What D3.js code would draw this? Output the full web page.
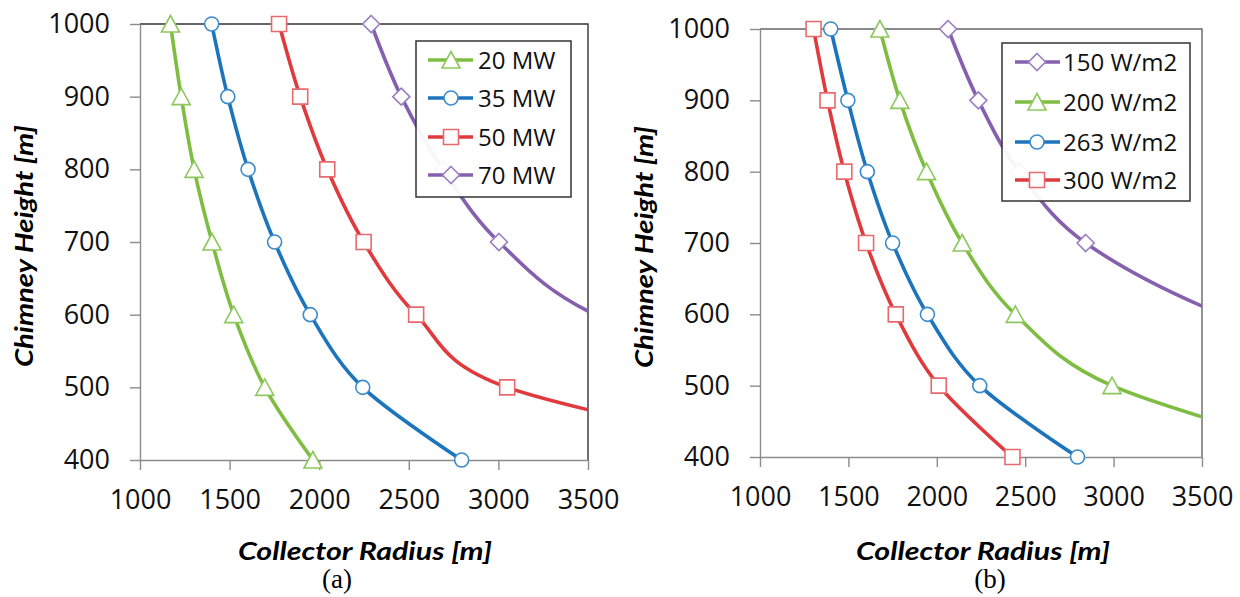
<!DOCTYPE html>
<html>
<head>
<meta charset="utf-8">
<script src="https://cdn.jsdelivr.net/npm/d3@7"></script>
<style>
  body { margin: 0; background: #fff; }
  svg { display: block; }
</style>
</head>
<body>
<svg id="chart" width="1240" height="597"></svg>
<script>
// ---- data -------------------------------------------------------------
const radiusTicks = [1000, 1500, 2000, 2500, 3000, 3500];
const heightTicks = [400, 500, 600, 700, 800, 900, 1000];
const chimneyHeights = [1000, 900, 800, 700, 600, 500, 400];

// (a) collector radius needed for a given plant power
const powerLabels = ["20 MW", "35 MW", "50 MW", "70 MW"];
const radius20MW = [1170, 1230, 1302, 1402, 1523, 1696, 1965];
const radius35MW = [1400, 1490, 1603, 1751, 1950, 2243, 2795];
const radius50MW = [1776, 1894, 2045, 2248, 2541, 3049, 4800];
const radius70MW = [2290, 2458, 2690, 3003, 3540, 4700, 6500];

// (b) collector radius needed for a given solar irradiance
const irradianceLabels = ["150 W/m2", "200 W/m2", "263 W/m2", "300 W/m2"];
const radius150W = [2064, 2235, 2466, 2842, 3610, 4800, 6600];
const radius200W = [1678, 1791, 1942, 2144, 2444, 2991, 4280];
const radius263W = [1400, 1497, 1607, 1750, 1947, 2243, 2796];
const radius300W = [1303, 1382, 1477, 1600, 1768, 2011, 2428];

// ---- styles -----------------------------------------------------------
const styles = {
  green:  { line: "#7FBD42", marker: "#8DC85E", shape: "triangle" },
  blue:   { line: "#1C75BC", marker: "#3E8BCB", shape: "circle" },
  red:    { line: "#E03A3E", marker: "#E86A6D", shape: "square" },
  purple: { line: "#8660AE", marker: "#9B7EC0", shape: "diamond" }
};
const shapePaths = {
  triangle: "M0,-8.5L9,8L-9,8Z",
  circle: "M7,0A7,7 0 1,1 -7,0A7,7 0 1,1 7,0Z",
  square: "M-7.5,-7.5H7.5V7.5H-7.5Z",
  diamond: "M0,-8.5L8.5,0L0,8.5L-8.5,0Z"
};

const panels = [
  {
    id: "a", left: 140, right: 588, top: 24, bottom: 460,
    frame: "#333",
    series: [
      { label: powerLabels[0], values: radius20MW, style: styles.green },
      { label: powerLabels[1], values: radius35MW, style: styles.blue },
      { label: powerLabels[2], values: radius50MW, style: styles.red },
      { label: powerLabels[3], values: radius70MW, style: styles.purple }
    ],
    legend: { x: 416, y: 41, w: 155, h: 156, rowY: [60, 98, 137, 175],
              lineX0: 428, lineX1: 473, markX: 451, textX: 478 },
    yTitleX: 33, xTitleX: 365, captionX: 337, caption: "(a)"
  },
  {
    id: "b", left: 760, right: 1202, top: 29, bottom: 457,
    frame: "#666",
    series: [
      { label: irradianceLabels[0], values: radius150W, style: styles.purple },
      { label: irradianceLabels[1], values: radius200W, style: styles.green },
      { label: irradianceLabels[2], values: radius263W, style: styles.blue },
      { label: irradianceLabels[3], values: radius300W, style: styles.red }
    ],
    legend: { x: 1002, y: 43, w: 188, h: 158, rowY: [62, 102, 142, 180],
              lineX0: 1015, lineX1: 1060, markX: 1037, textX: 1063 },
    yTitleX: 653, xTitleX: 983, captionX: 990, caption: "(b)"
  }
];

const svg = d3.select("#chart");
const labelFont = "'Open Sans', Lato, sans-serif";
const titleFont = "Lato, 'Open Sans', sans-serif";

panels.forEach(p => {
  const x = d3.scaleLinear().domain([1000, 3500]).range([p.left, p.right]);
  const y = d3.scaleLinear().domain([400, 1000]).range([p.bottom, p.top]);
  const g = svg.append("g").attr("class", "panel-" + p.id);

  // clip so smoothed lines stop at the right edge of the plot area
  const clipId = "clip-" + p.id;
  svg.append("defs").append("clipPath").attr("id", clipId)
    .append("rect")
    .attr("x", p.left - 10).attr("y", p.top - 10)
    .attr("width", p.right - p.left + 10).attr("height", p.bottom - p.top + 20);

  // plot frame (top and right edges)
  g.append("path")
    .attr("d", `M${p.left},${p.top}H${p.right}V${p.bottom}`)
    .attr("fill", "none").attr("stroke", p.frame).attr("stroke-width", 1.4);

  // axes
  const fmt = d3.format("d");
  const yAxis = d3.axisLeft(y).tickValues(heightTicks).tickFormat(fmt)
    .tickSize(10).tickSizeOuter(0).tickPadding(20);
  const xAxis = d3.axisBottom(x).tickValues(radiusTicks).tickFormat(fmt)
    .tickSize(10).tickSizeOuter(0).tickPadding(20);

  [[yAxis, `translate(${p.left},0)`], [xAxis, `translate(0,${p.bottom})`]].forEach(([ax, tr]) => {
    const a = g.append("g").attr("transform", tr).call(ax);
    a.select(".domain").attr("stroke", "#8c8c8c").attr("stroke-width", 1.4);
    a.selectAll(".tick line").attr("stroke", "#8c8c8c").attr("stroke-width", 1.4);
    a.selectAll(".tick text")
      .attr("fill", "#111")
      .style("font-family", labelFont)
      .style("font-size", "27px");
  });

  // series
  const line = d3.line()
    .x(d => x(d.r)).y(d => y(d.h))
    .curve(d3.curveCatmullRom.alpha(0));

  p.series.forEach(s => {
    const pts = chimneyHeights.map((h, i) => ({ h, r: s.values[i] }));
    g.append("path")
      .datum(pts)
      .attr("clip-path", `url(#${clipId})`)
      .attr("d", line)
      .attr("fill", "none")
      .attr("stroke", s.style.line)
      .attr("stroke-width", 3.6)
      .attr("stroke-linejoin", "round");

    g.selectAll(null)
      .data(pts.filter(d => d.r <= 3500))
      .join("path")
      .attr("transform", d => `translate(${x(d.r)},${y(d.h)})`)
      .attr("d", shapePaths[s.style.shape])
      .attr("fill", "#fff")
      .attr("stroke", s.style.marker)
      .attr("stroke-width", 1.6);
  });

  // legend
  const L = p.legend;
  const lg = g.append("g");
  lg.append("rect")
    .attr("x", L.x).attr("y", L.y).attr("width", L.w).attr("height", L.h)
    .attr("fill", "#fff").attr("fill-opacity", 0.94)
    .attr("stroke", "#333").attr("stroke-width", 1.5);
  p.series.forEach((s, i) => {
    const yy = L.rowY[i];
    lg.append("line")
      .attr("x1", L.lineX0).attr("x2", L.lineX1).attr("y1", yy).attr("y2", yy)
      .attr("stroke", s.style.line).attr("stroke-width", 3.6);
    lg.append("path")
      .attr("transform", `translate(${L.markX},${yy})`)
      .attr("d", shapePaths[s.style.shape])
      .attr("fill", "#fff").attr("stroke", s.style.marker).attr("stroke-width", 1.6);
    lg.append("text")
      .attr("x", L.textX).attr("y", yy)
      .attr("dy", "0.36em")
      .attr("fill", "#111")
      .style("font-family", labelFont)
      .style("font-size", "24px")
      .text(s.label);
  });

  // axis titles
  g.append("text")
    .attr("transform", `translate(${p.yTitleX},${(p.top + p.bottom) / 2 + 4}) rotate(-90)`)
    .attr("text-anchor", "middle")
    .attr("textLength", 242).attr("lengthAdjust", "spacingAndGlyphs")
    .attr("fill", "#000")
    .style("font-family", titleFont).style("font-size", "25px")
    .style("font-weight", "bold").style("font-style", "italic")
    .text("Chimney Height [m]");

  g.append("text")
    .attr("x", p.xTitleX).attr("y", 560)
    .attr("text-anchor", "middle")
    .attr("textLength", 254).attr("lengthAdjust", "spacingAndGlyphs")
    .attr("fill", "#000")
    .style("font-family", titleFont).style("font-size", "25px")
    .style("font-weight", "bold").style("font-style", "italic")
    .text("Collector Radius [m]");

  g.append("text")
    .attr("x", p.captionX).attr("y", 588)
    .attr("text-anchor", "middle")
    .attr("fill", "#000")
    .style("font-family", "'Liberation Serif', 'Times New Roman', serif")
    .style("font-size", "27px")
    .text(p.caption);
});
</script>
</body>
</html>
